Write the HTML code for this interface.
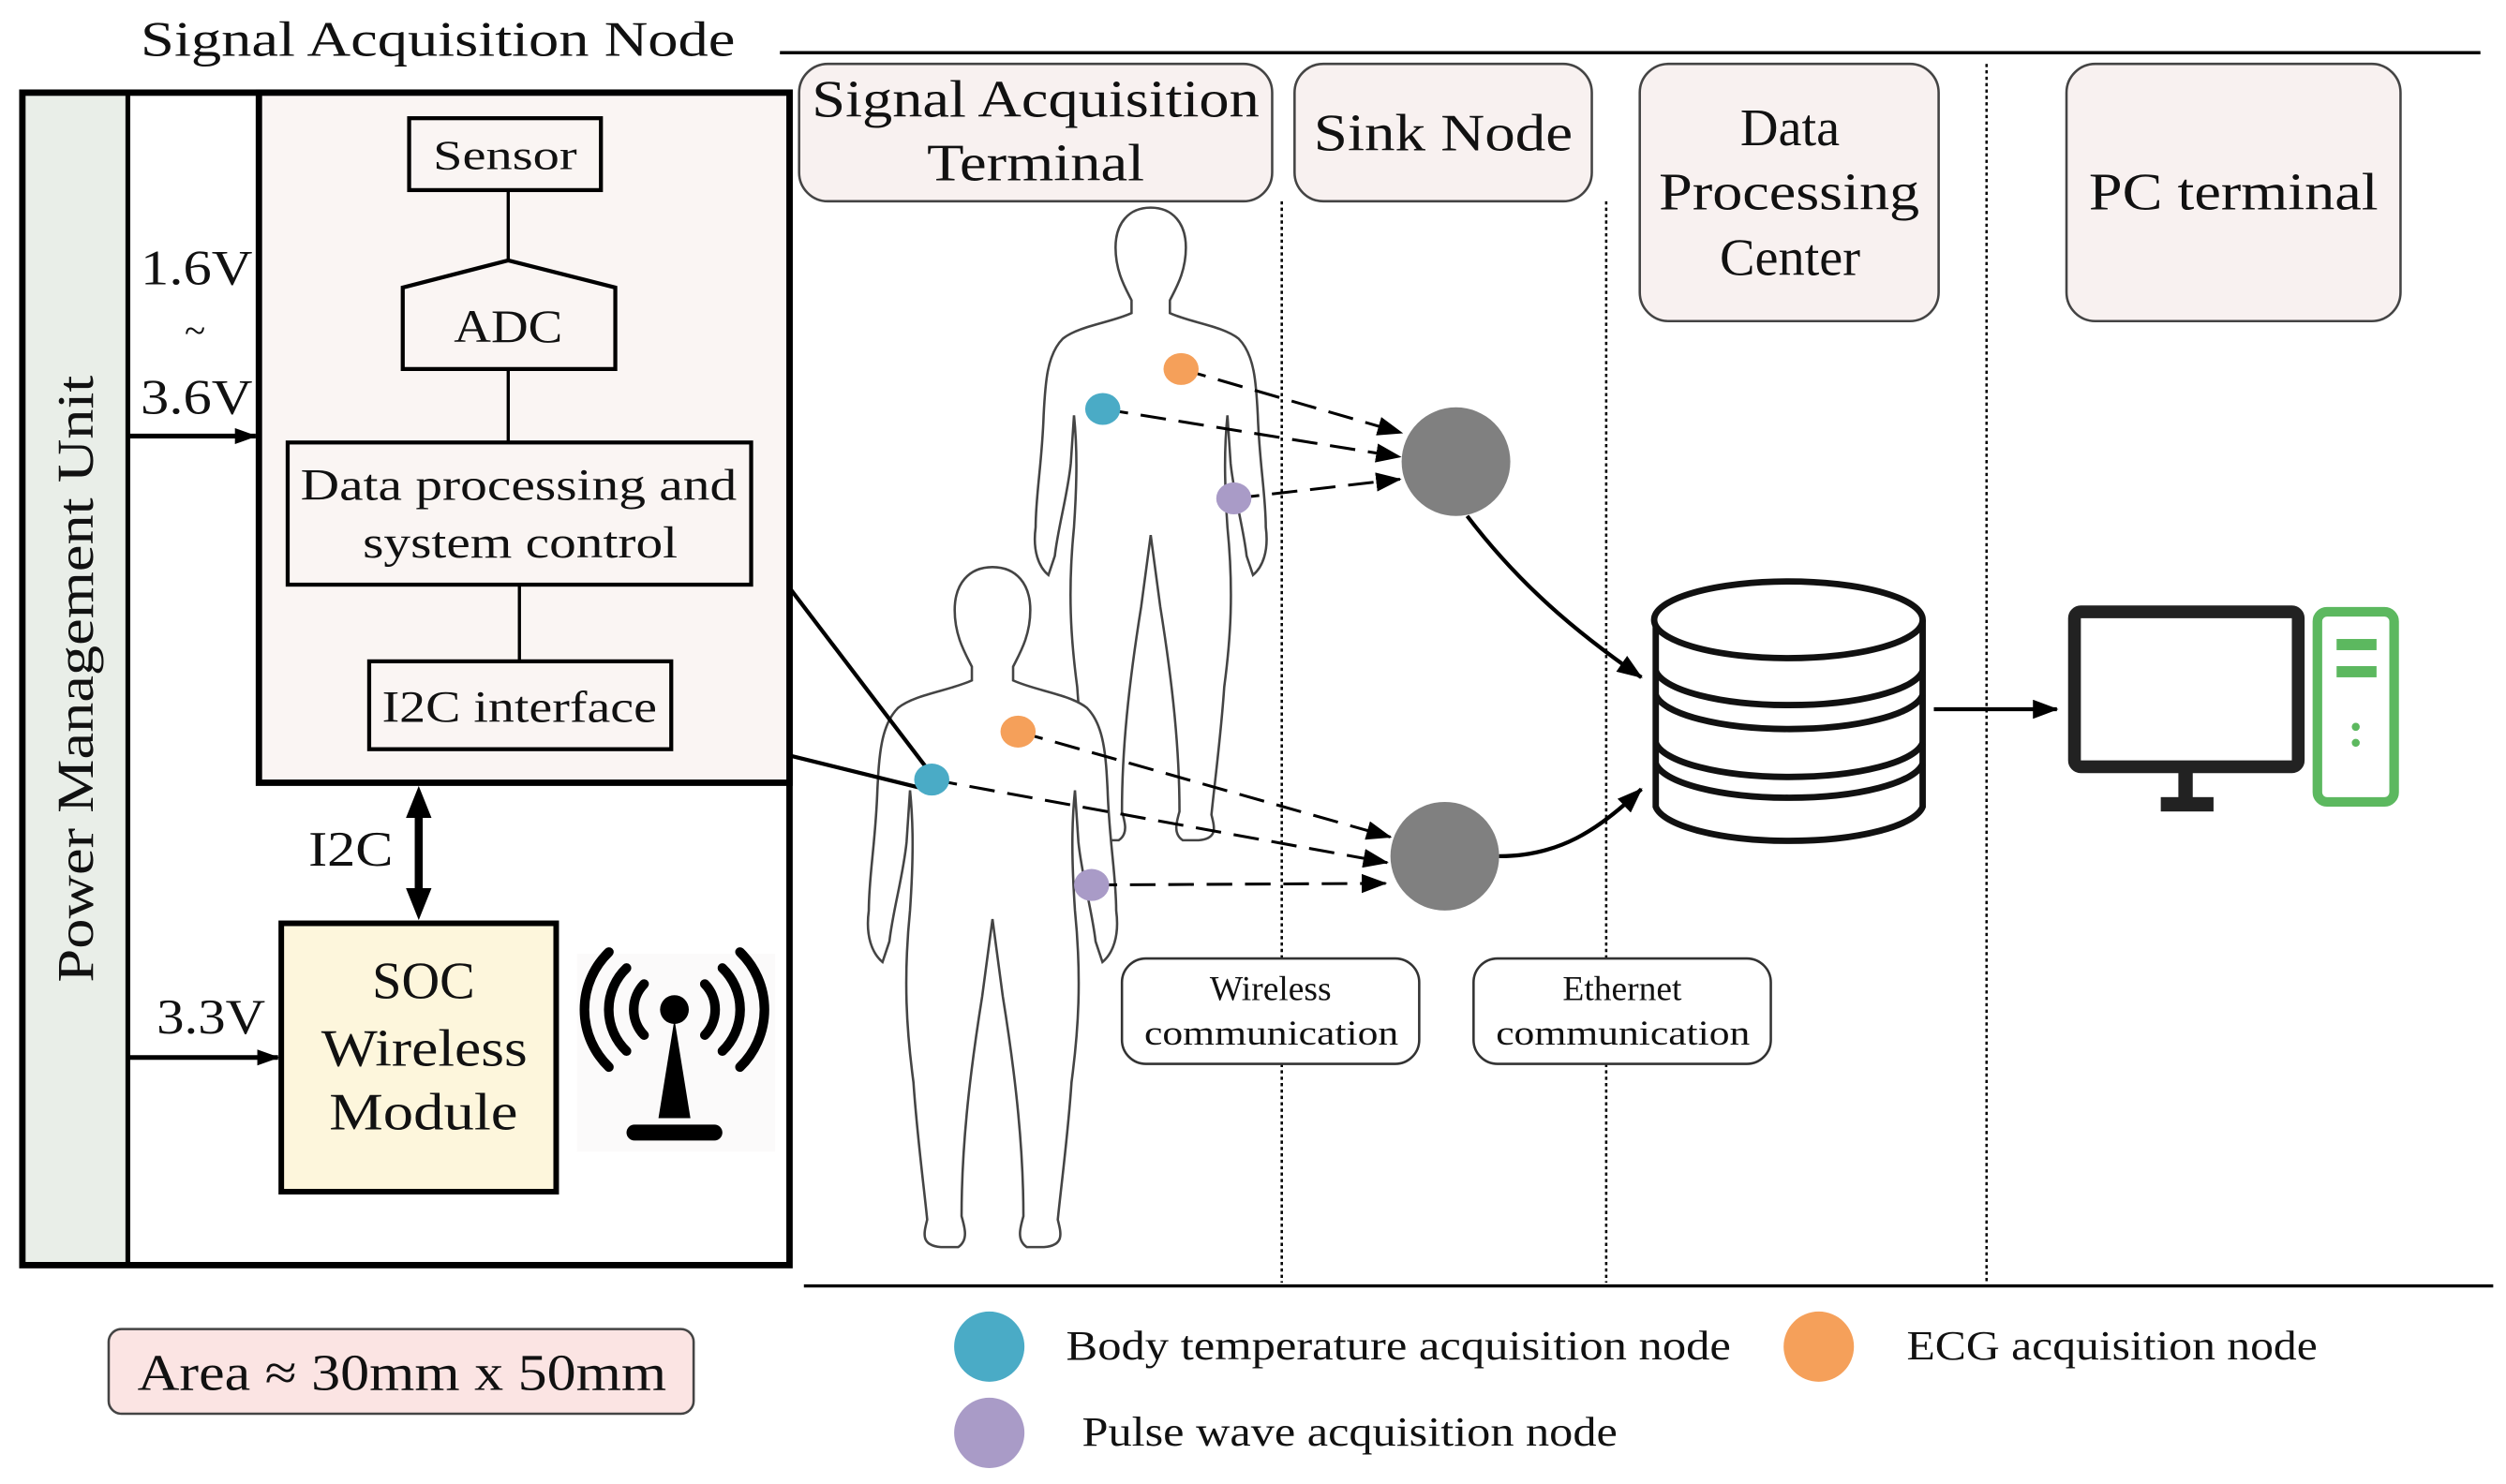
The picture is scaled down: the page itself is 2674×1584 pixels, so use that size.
<!DOCTYPE html>
<html><head><meta charset="utf-8"><style>
html,body{margin:0;padding:0;background:#fff}
svg{display:block}
text{font-family:"Liberation Serif",serif;fill:#111}
</style></head><body>
<svg width="2674" height="1584" viewBox="0 0 1568 929" preserveAspectRatio="none" xmlns="http://www.w3.org/2000/svg">
<defs>
<marker id="ah" markerWidth="16" markerHeight="12" refX="15" refY="6" orient="auto" markerUnits="userSpaceOnUse"><path d="M0,0 L16,6 L0,12 Z" fill="#000"/></marker>
<marker id="ahb" markerWidth="16" markerHeight="12" refX="15" refY="6" orient="auto" markerUnits="userSpaceOnUse"><path d="M0,0 L16,6 L0,12 Z" fill="#000"/></marker>
<marker id="ahs" markerWidth="14" markerHeight="10" refX="13" refY="5" orient="auto" markerUnits="userSpaceOnUse"><path d="M0,0 L14,5 L0,10 Z" fill="#000"/></marker>
<path id="fig" d="M0,0 C-14,0 -22,10 -22,25 C-22,40 -16,50 -12,58 L-12,66 C-25,72 -45,74 -55,82 C-65,92 -66,110 -67,130 C-68,160 -72,180 -72,200 C-74,215 -70,225 -64,230 L-60,218 C-58,200 -52,180 -50,160 L-48,130 C-46,150 -46,170 -48,200 C-52,240 -50,270 -46,300 C-44,330 -40,360 -38,380 C-40,388 -42,395 -30,396 L-20,396 C-14,392 -16,385 -18,378 C-18,340 -14,300 -6,250 L0,205 L6,250 C14,300 18,340 18,378 C16,385 14,392 20,396 L30,396 C42,395 40,388 38,380 C40,360 44,330 46,300 C50,270 52,240 48,200 C46,170 46,150 48,130 L50,160 C52,180 58,200 60,218 L64,230 C70,225 74,215 72,200 C72,180 68,160 67,130 C66,110 65,92 55,82 C45,74 25,72 12,66 L12,58 C16,50 22,40 22,25 C22,10 14,0 0,0 Z"/>
</defs>

<text x="88" y="35" font-size="31" textLength="372" lengthAdjust="spacingAndGlyphs">Signal Acquisition Node</text>
<line x1="488" y1="33" x2="1552" y2="33" stroke="#000" stroke-width="2"/>

<rect x="14" y="58" width="66" height="734" fill="#e9eee8"/>
<rect x="14" y="58" width="480" height="734" fill="none" stroke="#000" stroke-width="4"/>
<line x1="80" y1="58" x2="80" y2="792" stroke="#000" stroke-width="3"/>
<text transform="translate(58,615) rotate(-90)" font-size="32" textLength="380" lengthAdjust="spacingAndGlyphs">Power Management Unit</text>
<rect x="162" y="58" width="332" height="432" fill="#faf5f3" stroke="#000" stroke-width="4"/>

<rect x="256" y="74" width="120" height="45" fill="#faf5f3" stroke="#000" stroke-width="2.5"/>
<text x="271" y="106" font-size="26" textLength="90" lengthAdjust="spacingAndGlyphs">Sensor</text>
<line x1="318" y1="119" x2="318" y2="163" stroke="#000" stroke-width="2"/>
<path d="M252,180 L318,163 L385,180 L385,231 L252,231 Z" fill="#faf5f3" stroke="#000" stroke-width="2.5"/>
<text x="284" y="214" font-size="29" textLength="68" lengthAdjust="spacingAndGlyphs">ADC</text>
<line x1="318" y1="231" x2="318" y2="277" stroke="#000" stroke-width="2"/>
<rect x="180" y="277" width="290" height="89" fill="#faf5f3" stroke="#000" stroke-width="2.5"/>
<text x="188" y="313" font-size="28" textLength="273" lengthAdjust="spacingAndGlyphs">Data processing and</text>
<text x="227" y="349" font-size="28" textLength="197" lengthAdjust="spacingAndGlyphs">system control</text>
<line x1="325" y1="366" x2="325" y2="414" stroke="#000" stroke-width="2"/>
<rect x="231" y="414" width="189" height="55" fill="#faf5f3" stroke="#000" stroke-width="2.5"/>
<text x="239" y="452" font-size="28" textLength="172" lengthAdjust="spacingAndGlyphs">I2C interface</text>

<text x="88" y="178" font-size="31" textLength="70" lengthAdjust="spacingAndGlyphs">1.6V</text>
<text x="122" y="215" font-size="24" text-anchor="middle">~</text>
<text x="88" y="259" font-size="31" textLength="70" lengthAdjust="spacingAndGlyphs">3.6V</text>
<line x1="80" y1="273" x2="160" y2="273" stroke="#000" stroke-width="3" marker-end="url(#ahs)"/>

<line x1="262" y1="500" x2="262" y2="568" stroke="#000" stroke-width="5"/>
<path d="M262,492 L254,512 L270,512 Z" fill="#000"/>
<path d="M262,576 L254,556 L270,556 Z" fill="#000"/>
<text x="193" y="542" font-size="31" textLength="53" lengthAdjust="spacingAndGlyphs">I2C</text>

<rect x="176" y="578" width="172" height="168" fill="#fdf6dc" stroke="#000" stroke-width="3.5"/>
<text x="265" y="625" font-size="33" text-anchor="middle">SOC</text>
<text x="201" y="667" font-size="33" textLength="129" lengthAdjust="spacingAndGlyphs">Wireless</text>
<text x="206" y="707" font-size="33" textLength="118" lengthAdjust="spacingAndGlyphs">Module</text>
<text x="98" y="647" font-size="31" textLength="68" lengthAdjust="spacingAndGlyphs">3.3V</text>
<line x1="80" y1="662" x2="174" y2="662" stroke="#000" stroke-width="3" marker-end="url(#ahs)"/>

<rect x="361" y="597" width="124" height="124" fill="#fbfafa"/>
<circle cx="422" cy="632" r="9" fill="#000"/>
<path d="M422,638 L412,700 L432,700 Z" fill="#000"/>
<line x1="397" y1="709" x2="447" y2="709" stroke="#000" stroke-width="10" stroke-linecap="round"/>
<g fill="none" stroke="#000" stroke-width="6" stroke-linecap="round">
<path d="M403,616 A23,23 0 0 0 403,648"/><path d="M441,616 A23,23 0 0 1 441,648"/>
<path d="M392,606 A36,36 0 0 0 392,658"/><path d="M452,606 A36,36 0 0 1 452,658"/>
<path d="M381,596 A50,50 0 0 0 381,668"/><path d="M463,596 A50,50 0 0 1 463,668"/>
</g>

<rect x="68" y="832" width="366" height="53" rx="8" fill="#fbe4e3" stroke="#444" stroke-width="1.5"/>
<text x="86" y="870" font-size="32" textLength="331" lengthAdjust="spacingAndGlyphs">Area ≈ 30mm x 50mm</text>

<g fill="#f8f1f0" stroke="#444" stroke-width="1.5">
<rect x="500" y="40" width="296" height="86" rx="18"/>
<rect x="810" y="40" width="186" height="86" rx="18"/>
<rect x="1026" y="40" width="187" height="161" rx="18"/>
<rect x="1293" y="40" width="209" height="161" rx="18"/>
</g>
<text x="508" y="73" font-size="33" textLength="280" lengthAdjust="spacingAndGlyphs">Signal Acquisition</text>
<text x="580" y="113" font-size="33" textLength="136" lengthAdjust="spacingAndGlyphs">Terminal</text>
<text x="822" y="94" font-size="33" textLength="162" lengthAdjust="spacingAndGlyphs">Sink Node</text>
<text x="1120" y="91" font-size="33" text-anchor="middle">Data</text>
<text x="1038" y="131" font-size="33" textLength="163" lengthAdjust="spacingAndGlyphs">Processing</text>
<text x="1120" y="172" font-size="33" text-anchor="middle">Center</text>
<text x="1307" y="131" font-size="33" textLength="181" lengthAdjust="spacingAndGlyphs">PC terminal</text>

<g stroke="#000" stroke-width="1.5" stroke-dasharray="2,2">
<line x1="802" y1="126" x2="802" y2="803"/>
<line x1="1005" y1="126" x2="1005" y2="803"/>
<line x1="1243" y1="40" x2="1243" y2="803"/>
</g>
<line x1="503" y1="805" x2="1560" y2="805" stroke="#000" stroke-width="2"/>

<use href="#fig" transform="translate(720,130)" fill="#fff" stroke="#444" stroke-width="1.5"/>
<use href="#fig" transform="translate(621,355) scale(1.075)" fill="#fff" stroke="#444" stroke-width="1.4"/>

<line x1="494" y1="368" x2="583" y2="485" stroke="#000" stroke-width="2.5"/>
<line x1="494" y1="473" x2="575" y2="493" stroke="#000" stroke-width="2.5"/>

<g stroke="#000" stroke-width="1.8" stroke-dasharray="16,8" fill="none">
<line x1="739" y1="231" x2="877" y2="271" marker-end="url(#ah)"/>
<line x1="690" y1="256" x2="876" y2="286" marker-end="url(#ah)"/>
<line x1="772" y1="312" x2="876" y2="300" marker-end="url(#ah)"/>
<line x1="637" y1="458" x2="870" y2="524" marker-end="url(#ah)"/>
<line x1="583" y1="488" x2="868" y2="540" marker-end="url(#ah)"/>
<line x1="683" y1="554" x2="867" y2="553" marker-end="url(#ah)"/>
</g>
<ellipse cx="739" cy="231" rx="11" ry="10" fill="#f5a05a"/>
<ellipse cx="690" cy="256" rx="11" ry="10" fill="#4aabc6"/>
<ellipse cx="772" cy="312" rx="11" ry="10" fill="#a99bc7"/>
<ellipse cx="637" cy="458" rx="11" ry="10" fill="#f5a05a"/>
<ellipse cx="583" cy="488" rx="11" ry="10" fill="#4aabc6"/>
<ellipse cx="683" cy="554" rx="11" ry="10" fill="#a99bc7"/>

<ellipse cx="911" cy="289" rx="34" ry="34" fill="#808080"/>
<ellipse cx="904" cy="536" rx="34" ry="34" fill="#808080"/>
<path d="M918,323 C950,365 985,395 1027,424" fill="none" stroke="#000" stroke-width="2.5" marker-end="url(#ahb)"/>
<path d="M938,536 C975,536 1000,520 1027,494" fill="none" stroke="#000" stroke-width="2.5" marker-end="url(#ahb)"/>

<g fill="#fff" stroke="#111" stroke-width="4">
<path d="M1036,388 L1036,505 A84,24 0 0 0 1203,505 L1203,388"/>
<ellipse cx="1119" cy="388" rx="84" ry="24"/>
<path d="M1036,420 A84,24 0 0 0 1203,420" fill="none"/>
<path d="M1036,435 A84,24 0 0 0 1203,435" fill="none"/>
<path d="M1036,465 A84,24 0 0 0 1203,465" fill="none"/>
<path d="M1036,478 A84,24 0 0 0 1203,478" fill="none"/>
</g>
<line x1="1210" y1="444" x2="1287" y2="444" stroke="#000" stroke-width="2.5" marker-end="url(#ahb)"/>

<rect x="1298" y="383" width="140" height="97" rx="4" fill="#fff" stroke="#222" stroke-width="8"/>
<rect x="1363" y="482" width="9" height="20" fill="#222"/>
<rect x="1352" y="499" width="33" height="9" fill="#222"/>
<rect x="1450" y="383" width="48" height="119" rx="6" fill="#fff" stroke="#5cb85f" stroke-width="6"/>
<rect x="1462" y="400" width="25" height="7" fill="#5cb85f"/>
<rect x="1462" y="417" width="25" height="7" fill="#5cb85f"/>
<circle cx="1474" cy="455" r="2.5" fill="#5cb85f"/>
<circle cx="1474" cy="465" r="2.5" fill="#5cb85f"/>

<rect x="702" y="600" width="186" height="66" rx="15" fill="#fff" stroke="#333" stroke-width="1.5"/>
<text x="795" y="626" font-size="22" text-anchor="middle">Wireless</text>
<text x="716" y="654" font-size="22" textLength="159" lengthAdjust="spacingAndGlyphs">communication</text>
<rect x="922" y="600" width="186" height="66" rx="15" fill="#fff" stroke="#333" stroke-width="1.5"/>
<text x="1015" y="626" font-size="22" text-anchor="middle">Ethernet</text>
<text x="936" y="654" font-size="22" textLength="159" lengthAdjust="spacingAndGlyphs">communication</text>

<circle cx="619" cy="843" r="22" fill="#4aabc6"/>
<text x="667" y="851" font-size="26" textLength="416" lengthAdjust="spacingAndGlyphs">Body temperature acquisition node</text>
<circle cx="1138" cy="843" r="22" fill="#f5a05a"/>
<text x="1193" y="851" font-size="26" textLength="257" lengthAdjust="spacingAndGlyphs">ECG acquisition node</text>
<circle cx="619" cy="897" r="22" fill="#a99bc7"/>
<text x="677" y="905" font-size="26" textLength="335" lengthAdjust="spacingAndGlyphs">Pulse wave acquisition node</text>
</svg>
</body></html>
